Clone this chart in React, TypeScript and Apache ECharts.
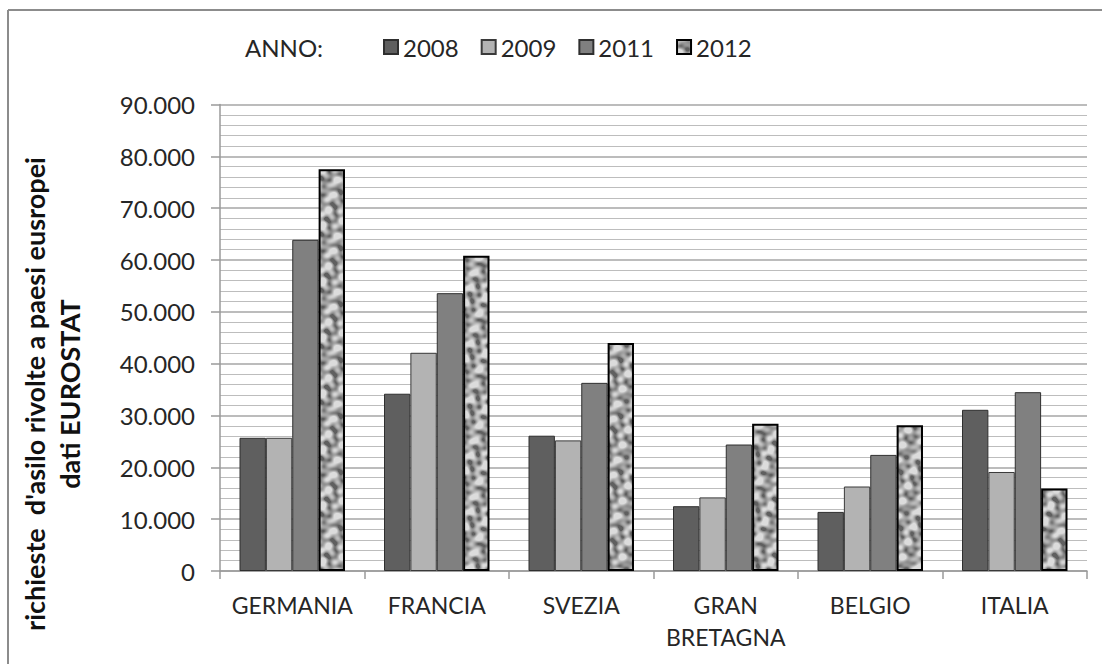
import React, { useEffect, useRef } from "react";
import * as echarts from "echarts";

const categories = ["GERMANIA", "FRANCIA", "SVEZIA", "GRAN\nBRETAGNA", "BELGIO", "ITALIA"];
const years = ["2008", "2009", "2011", "2012"];
const values2008 = [25700, 34200, 26100, 12500, 11400, 31100];
const values2009 = [25700, 42100, 25200, 14200, 16300, 19100];
const values2011 = [63900, 53600, 36300, 24400, 22400, 34500];
const values2012 = [77500, 60800, 44000, 28400, 28100, 15900];
const yTicksMax = 90000;
const yInterval = 10000;
const yTitle = "richieste  d'asilo rivolte a paesi eusropei\ndati EUROSTAT";
const legendTitle = "ANNO:";

const FONT = "Lato, 'Open Sans', sans-serif";

function makeTexture(): HTMLCanvasElement {
  const size = 56;
  const c = document.createElement("canvas");
  c.width = size;
  c.height = size;
  const ctx = c.getContext("2d")!;
  const img = ctx.createImageData(size, size);
  const k = (2 * Math.PI) / size;
  const waves = [
    [3, 1, 0.3, 1.0],
    [1, 4, 1.9, 0.9],
    [-2, 3, 4.1, 0.8],
    [5, -2, 2.7, 0.7],
    [4, 5, 0.9, 0.6],
    [-6, 1, 5.3, 0.5],
    [2, -7, 3.3, 0.5],
  ];
  for (let y = 0; y < size; y++) {
    for (let x = 0; x < size; x++) {
      let v = 0;
      for (const [a, b, p, w] of waves) v += w * Math.sin(k * (a * x + b * y) + p);
      const t = Math.max(0, Math.min(1, (v + 1.8) / 3.6));
      const g = Math.round(95 + Math.pow(t, 0.7) * 125);
      const i = (y * size + x) * 4;
      img.data[i] = g;
      img.data[i + 1] = g;
      img.data[i + 2] = g;
      img.data[i + 3] = 255;
    }
  }
  ctx.putImageData(img, 0, 0);
  return c;
}

export default function App() {
  const ref = useRef<HTMLDivElement>(null);
  useEffect(() => {
    if (!ref.current) return;
    const chart = echarts.init(ref.current, undefined, { renderer: "svg" });
    const texture = makeTexture();
    const seriesData = [values2008, values2009, values2011, values2012];
    const fills: any[] = ["#5f5f5f", "#b3b3b3", "#808080", { image: texture, repeat: "repeat" }];
    const borders = ["#2f2f2f", "#3a3a3a", "#2f2f2f", "#000000"];
    const borderWidths = [1, 1, 1, 2];
    chart.setOption({
      animation: false,
      backgroundColor: "#ffffff",
      textStyle: { fontFamily: FONT },
      grid: { left: 220, right: 15, top: 104.5, bottom: 93, containLabel: false },
      legend: {
        left: 378,
        top: 29,
        itemWidth: 14,
        itemHeight: 14,
        itemGap: 22,
        icon: "rect",
        textStyle: { fontSize: 24, color: "#262626", fontFamily: FONT, lineHeight: 26 },
        data: years,
      },
      xAxis: {
        type: "category",
        data: categories,
        axisLine: { show: true, lineStyle: { color: "#9a9a9a", width: 1.5 } },
        axisTick: { show: true, length: 8, lineStyle: { color: "#9a9a9a", width: 1.5 } },
        axisLabel: {
          interval: 0,
          fontSize: 23,
          color: "#262626",
          margin: 18,
          lineHeight: 32,
          fontFamily: FONT,
        },
      },
      yAxis: {
        type: "value",
        min: 0,
        max: yTicksMax,
        interval: yInterval,
        axisLine: { show: true, lineStyle: { color: "#9a9a9a", width: 1.5 } },
        axisTick: { show: true, length: 9, lineStyle: { color: "#9a9a9a", width: 1.5 } },
        axisLabel: {
          fontSize: 24,
          color: "#262626",
          margin: 25,
          fontFamily: FONT,
          formatter: (v: number) => (v === 0 ? "0" : `${v / 1000}.000`),
        },
        splitLine: { show: true, lineStyle: { color: "#a6a6a6", width: 1.5 } },
        minorTick: { show: false, splitNumber: 5 },
        minorSplitLine: { show: true, lineStyle: { color: "#bdbdbd", width: 1.2 } },
      },
      series: years.map((y, i) => ({
        name: y,
        type: "bar",
        data: seriesData[i],
        barGap: "0%",
        barCategoryGap: "27%",
        itemStyle: { color: fills[i], borderColor: borders[i], borderWidth: borderWidths[i] },
      })),
      graphic: [
        {
          type: "line",
          shape: { x1: 8, y1: 10, x2: 1102, y2: 10 },
          style: { stroke: "#8c8c8c", lineWidth: 2 },
          silent: true,
        },
        {
          type: "line",
          shape: { x1: 8, y1: 10, x2: 8, y2: 664 },
          style: { stroke: "#8c8c8c", lineWidth: 2 },
          silent: true,
        },
        {
          type: "text",
          x: 245,
          y: 47,
          style: {
            text: legendTitle,
            fontSize: 24,
            fontFamily: FONT,
            fill: "#262626",
            textVerticalAlign: "middle",
          },
        },
        {
          type: "text",
          x: 52,
          y: 394,
          rotation: Math.PI / 2,
          style: {
            text: yTitle,
            fontSize: 27,
            fontWeight: "bold",
            fontFamily: FONT,
            fill: "#111",
            textAlign: "center",
            textVerticalAlign: "middle",
            lineHeight: 35,
          },
        },
      ],
    });
    return () => chart.dispose();
  }, []);
  return (
    <div
      ref={ref}
      style={{ position: "absolute", left: 0, top: 0, width: 1102, height: 664 }}
    />
  );
}
